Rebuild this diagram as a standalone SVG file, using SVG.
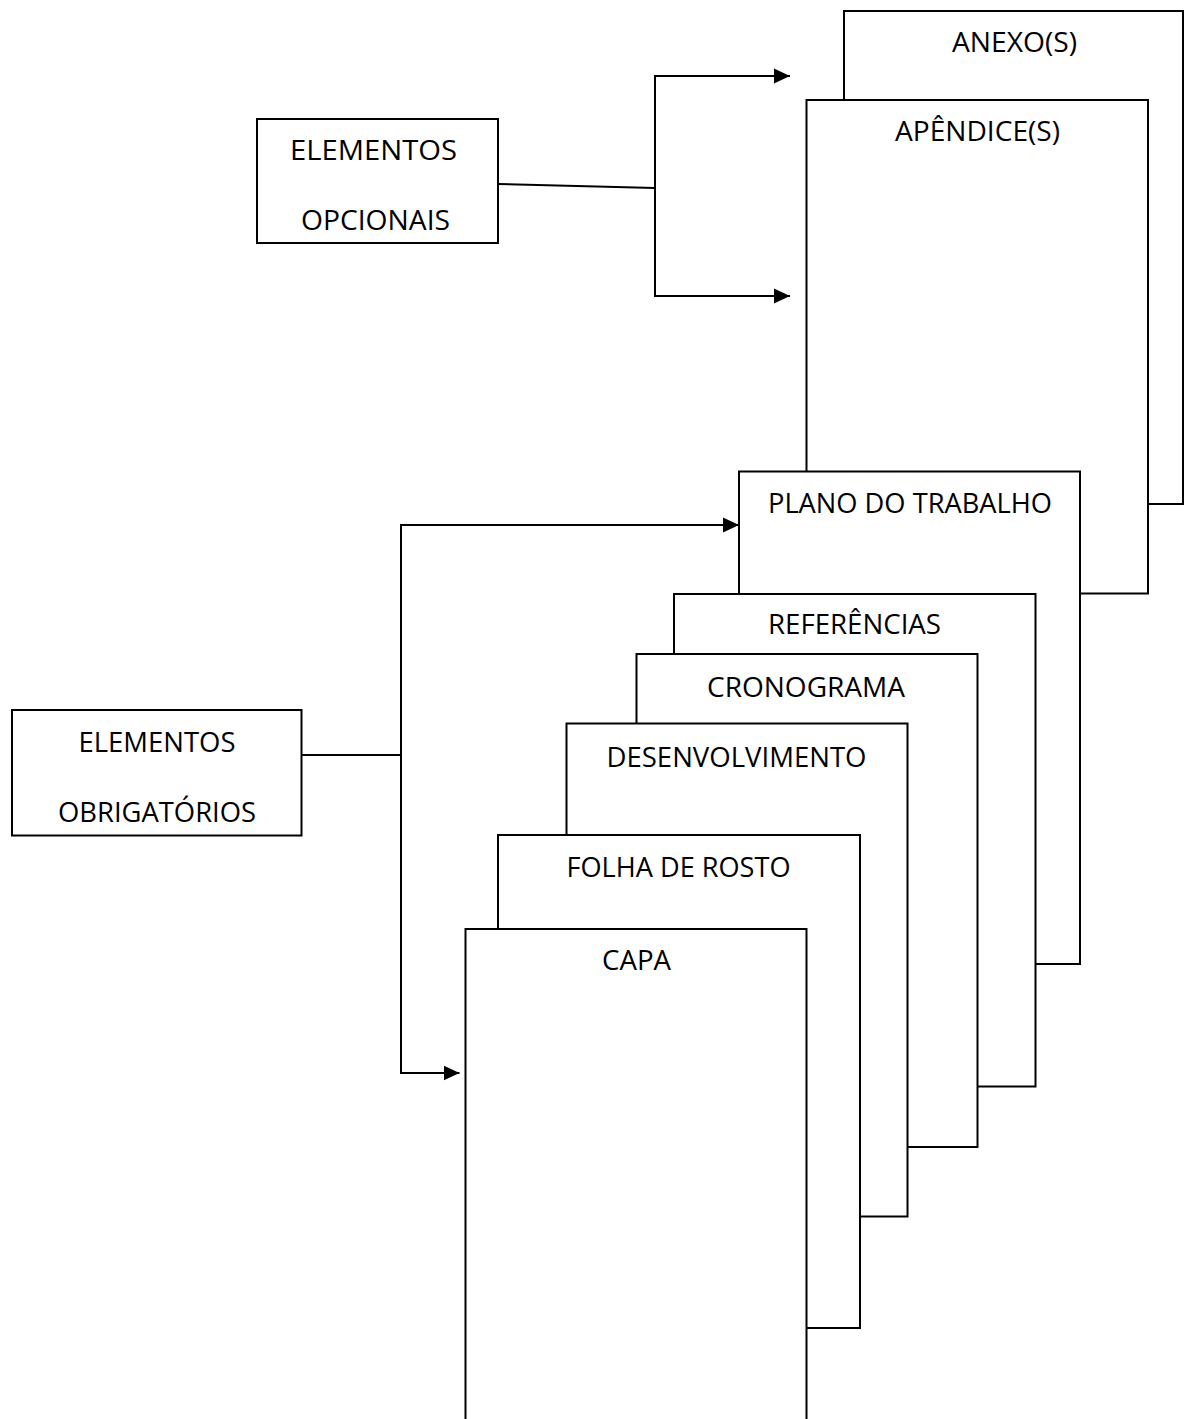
<svg xmlns="http://www.w3.org/2000/svg" width="1186" height="1419" viewBox="0 0 1186 1419">
<style>
.box{fill:#fff;stroke:#000;stroke-width:2}
.lbl{font-family:"Open Sans","Liberation Sans",sans-serif;font-size:27.5px;fill:#000}
.ln{fill:none;stroke:#000;stroke-width:2}
</style>
<defs>
<marker id="arr" markerUnits="userSpaceOnUse" markerWidth="16" markerHeight="16" viewBox="0 0 16 16" refX="16" refY="8" orient="auto">
<path d="M0,0.5 L16,8 L0,15.5 Z" fill="#000"/>
</marker>
</defs>
<rect width="1186" height="1419" fill="#fff"/>
<g id="anexos">
<rect class="box" x="844" y="11" width="339" height="493"/>
<text class="lbl" x="952" y="52" textLength="125" lengthAdjust="spacingAndGlyphs">ANEXO(S)</text>
</g>
<g id="apendices">
<rect class="box" x="806.5" y="100" width="341.5" height="493.5"/>
<text class="lbl" x="895" y="141" textLength="165" lengthAdjust="spacingAndGlyphs">APÊNDICE(S)</text>
</g>
<g id="plano">
<rect class="box" x="739" y="471.5" width="341" height="492.5"/>
<text class="lbl" x="768" y="512.5" textLength="284" lengthAdjust="spacingAndGlyphs">PLANO DO TRABALHO</text>
</g>
<g id="referencias">
<rect class="box" x="674" y="594" width="361.5" height="492.5"/>
<text class="lbl" x="768" y="634" textLength="173" lengthAdjust="spacingAndGlyphs">REFERÊNCIAS</text>
</g>
<g id="cronograma">
<rect class="box" x="636.5" y="654" width="341" height="493"/>
<text class="lbl" x="707" y="696.5" textLength="198" lengthAdjust="spacingAndGlyphs">CRONOGRAMA</text>
</g>
<g id="desenvolvimento">
<rect class="box" x="566.5" y="723.5" width="341" height="493"/>
<text class="lbl" x="606.5" y="766.5" textLength="260" lengthAdjust="spacingAndGlyphs">DESENVOLVIMENTO</text>
</g>
<g id="folha">
<rect class="box" x="498" y="835" width="362" height="493"/>
<text class="lbl" x="566.5" y="876.5" textLength="224" lengthAdjust="spacingAndGlyphs">FOLHA DE ROSTO</text>
</g>
<g id="capa">
<rect class="box" x="465.5" y="929" width="341" height="520"/>
<text class="lbl" x="602" y="970" textLength="69" lengthAdjust="spacingAndGlyphs">CAPA</text>
</g>
<g id="opcionais">
<rect class="box" x="257" y="119" width="241" height="124"/>
<text class="lbl" x="290" y="160" textLength="167" lengthAdjust="spacingAndGlyphs">ELEMENTOS</text>
<text class="lbl" x="301" y="230" textLength="149" lengthAdjust="spacingAndGlyphs">OPCIONAIS</text>
</g>
<g id="obrigatorios">
<rect class="box" x="12" y="710" width="289.5" height="125.5"/>
<text class="lbl" x="78.5" y="752.3" textLength="157" lengthAdjust="spacingAndGlyphs">ELEMENTOS</text>
<text class="lbl" x="58" y="822.3" textLength="198" lengthAdjust="spacingAndGlyphs">OBRIGATÓRIOS</text>
</g>
<g id="connectors">
<line class="ln" x1="498" y1="184" x2="655" y2="188"/>
<polyline class="ln" points="790,76 655,76 655,296 790,296"/>
<line class="ln" x1="655" y1="76" x2="790" y2="76" marker-end="url(#arr)"/>
<line class="ln" x1="655" y1="296" x2="790" y2="296" marker-end="url(#arr)"/>
<line class="ln" x1="301.5" y1="755" x2="401" y2="755"/>
<polyline class="ln" points="401,525 401,1073"/>
<line class="ln" x1="400" y1="525" x2="739" y2="525" marker-end="url(#arr)"/>
<line class="ln" x1="400" y1="1073" x2="459.5" y2="1073" marker-end="url(#arr)"/>
</g>
</svg>
